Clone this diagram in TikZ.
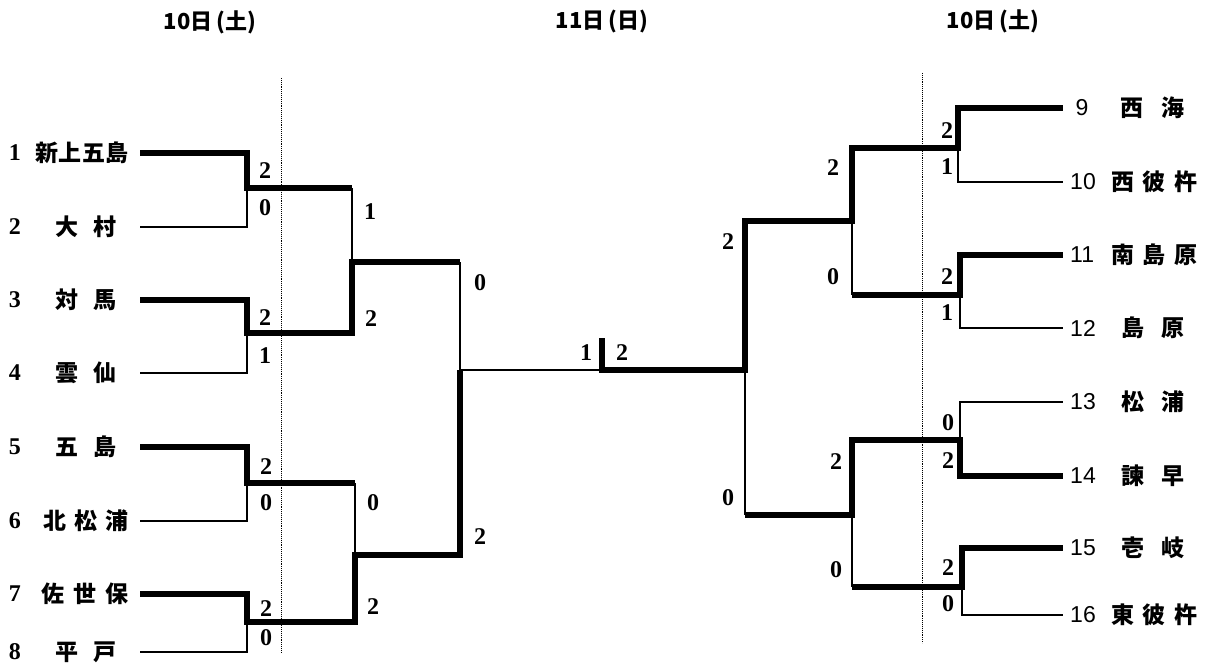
\documentclass[tikz,border=0pt]{standalone}
\usepackage{fontspec}
\setmainfont{Liberation Serif}
\setsansfont{Liberation Sans}
\newfontfamily\cjk{Noto Sans CJK JP}
\begin{document}
\begin{tikzpicture}[x=1pt,y=-1pt,
  win/.style={line width=5.5pt, line join=miter},
  lose/.style={line width=1.8pt},
  sep/.style={line width=0.9pt, densely dotted},
  score/.style={font=\fontsize{24}{26}\selectfont\bfseries, inner sep=0pt},
  num/.style={font=\fontsize{24}{26}\selectfont\bfseries, inner sep=0pt},
  rnum/.style={font=\sffamily\fontsize{23}{25}\selectfont, inner sep=0pt},
  tname/.style={font=\cjk\bfseries\fontsize{23}{25}\selectfont, inner sep=0pt},
  hdr/.style={font=\cjk\bfseries\fontsize{22}{24}\selectfont, inner sep=0pt}]
\useasboundingbox (0,0) rectangle (1206,671);

% headers
\node[hdr] (h1) at (210,22) {10日\,(土)};
\node[hdr] (h2) at (602,22) {11日\,(日)};
\node[hdr] (h3) at (993,21) {10日\,(土)};

% separator lines
\coordinate (s1t) at (281,78);  \coordinate (s1b) at (281,652);
\coordinate (s2t) at (922,73);  \coordinate (s2b) at (922,643);
\draw[sep] (s1t) -- (s1b);
\draw[sep] (s2t) -- (s2b);

% left bracket coordinates
\coordinate (a1) at (140,153); \coordinate (a1c) at (247,153);
\coordinate (a2) at (140,227); \coordinate (a2c) at (247,227);
\coordinate (A) at (247,188);
\coordinate (b3) at (140,300); \coordinate (b3c) at (247,300);
\coordinate (b4) at (140,373); \coordinate (b4c) at (247,373);
\coordinate (B) at (247,333);
\coordinate (AB1) at (352,188); \coordinate (AB2) at (352,333); \coordinate (AB) at (352,262);
\coordinate (c5) at (140,447); \coordinate (c5c) at (247,447);
\coordinate (c6) at (140,521); \coordinate (c6c) at (247,521);
\coordinate (C) at (247,483);
\coordinate (d7) at (140,594); \coordinate (d7c) at (247,594);
\coordinate (d8) at (140,652); \coordinate (d8c) at (247,652);
\coordinate (D) at (247,622);
\coordinate (CD1) at (355,483); \coordinate (CD2) at (355,622); \coordinate (CD) at (355,555);
\coordinate (L1) at (460,262); \coordinate (L2) at (460,555); \coordinate (L) at (460,370);
\coordinate (F) at (602,370); \coordinate (Ft) at (602,338); \coordinate (Fb) at (602,373);

% right bracket coordinates
\coordinate (R) at (745,370); \coordinate (R1) at (745,221); \coordinate (R2) at (745,515);
\coordinate (E1) at (852,221); \coordinate (E1t) at (852,148); \coordinate (E1b) at (852,295);
\coordinate (E2) at (852,515); \coordinate (E2t) at (852,440); \coordinate (E2b) at (852,587);
\coordinate (G9) at (958,148); \coordinate (g9c) at (958,108); \coordinate (g9) at (1063,108);
\coordinate (g10c) at (958,182); \coordinate (g10) at (1063,182);
\coordinate (G11) at (960,295); \coordinate (g11c) at (960,255); \coordinate (g11) at (1063,255);
\coordinate (g12c) at (960,328); \coordinate (g12) at (1063,328);
\coordinate (G13) at (960,440); \coordinate (g13c) at (960,402); \coordinate (g13) at (1063,402);
\coordinate (g14c) at (960,476); \coordinate (g14) at (1063,476);
\coordinate (G15) at (962,587); \coordinate (g15c) at (962,548); \coordinate (g15) at (1063,548);
\coordinate (g16c) at (962,615); \coordinate (g16) at (1063,615);

% left bracket lines
\draw[lose] (a2) -- (a2c) -- (A);
\draw[lose] (b4) -- (b4c) -- (B);
\draw[lose] (AB1) -- (AB);
\draw[lose] (c6) -- (c6c) -- (C);
\draw[lose] (d8) -- (d8c) -- (D);
\draw[lose] (CD1) -- (CD);
\draw[lose] (L1) -- (L) -- (F);
\draw[win] (a1) -- (a1c) -- (A) -- (AB1);
\draw[win] (b3) -- (b3c) -- (B) -- (AB2) -- (AB) -- (L1);
\draw[win] (c5) -- (c5c) -- (C) -- (CD1);
\draw[win] (d7) -- (d7c) -- (D) -- (CD2) -- (CD) -- (L2) -- (L);

% final
\draw[win] (F) -- (R) -- (R1) -- (E1) -- (E1t) -- (G9) -- (g9c) -- (g9);
\draw[win] (Ft) -- (Fb);

% right bracket lines
\draw[lose] (R) -- (R2);
\draw[lose] (E1) -- (E1b);
\draw[lose] (G9) -- (g10c) -- (g10);
\draw[lose] (G11) -- (g12c) -- (g12);
\draw[lose] (G13) -- (g13c) -- (g13);
\draw[lose] (E2) -- (E2b);
\draw[lose] (G15) -- (g16c) -- (g16);
\draw[win] (E1b) -- (G11) -- (g11c) -- (g11);
\draw[win] (R2) -- (E2) -- (E2t) -- (G13) -- (g14c) -- (g14);
\draw[win] (E2b) -- (G15) -- (g15c) -- (g15);

% left team labels
\node[num] (n1) at (15,153) {1}; \node[tname] (m1) at (82,153) {\makebox[94pt][s]{新\hfill 上\hfill 五\hfill 島}};
\node[num] (n2) at (15,227) {2}; \node[tname] (m2) at (86,227) {\makebox[62pt][s]{大\hfill 村}};
\node[num] (n3) at (15,300) {3}; \node[tname] (m3) at (86,300) {\makebox[62pt][s]{対\hfill 馬}};
\node[num] (n4) at (15,373) {4}; \node[tname] (m4) at (86,373) {\makebox[62pt][s]{雲\hfill 仙}};
\node[num] (n5) at (15,447) {5}; \node[tname] (m5) at (86,447) {\makebox[62pt][s]{五\hfill 島}};
\node[num] (n6) at (15,521) {6}; \node[tname] (m6) at (86,521) {\makebox[86pt][s]{北\hfill 松\hfill 浦}};
\node[num] (n7) at (15,594) {7}; \node[tname] (m7) at (85,594) {\makebox[88pt][s]{佐\hfill 世\hfill 保}};
\node[num] (n8) at (15,652) {8}; \node[tname] (m8) at (86,652) {\makebox[62pt][s]{平\hfill 戸}};

% right team labels
\node[rnum] (n9) at (1082,108) {9};  \node[tname] (m9) at (1152,108) {\makebox[64pt][s]{西\hfill 海}};
\node[rnum,anchor=west] (n10) at (1070,182) {10}; \node[tname] (m10) at (1154,182) {\makebox[86pt][s]{西\hfill 彼\hfill 杵}};
\node[rnum,anchor=west] (n11) at (1070,255) {11}; \node[tname] (m11) at (1154,255) {\makebox[86pt][s]{南\hfill 島\hfill 原}};
\node[rnum,anchor=west] (n12) at (1070,328) {12}; \node[tname] (m12) at (1153,328) {\makebox[63pt][s]{島\hfill 原}};
\node[rnum,anchor=west] (n13) at (1070,402) {13}; \node[tname] (m13) at (1153,402) {\makebox[63pt][s]{松\hfill 浦}};
\node[rnum,anchor=west] (n14) at (1070,476) {14}; \node[tname] (m14) at (1153,476) {\makebox[63pt][s]{諫\hfill 早}};
\node[rnum,anchor=west] (n15) at (1070,548) {15}; \node[tname] (m15) at (1153,548) {\makebox[63pt][s]{壱\hfill 岐}};
\node[rnum,anchor=west] (n16) at (1070,615) {16}; \node[tname] (m16) at (1154,615) {\makebox[86pt][s]{東\hfill 彼\hfill 杵}};

% scores left
\node[score] (sa1) at (265,171) {2}; \node[score] (sa2) at (265,208) {0};
\node[score] (sb1) at (265,318) {2}; \node[score] (sb2) at (265,356) {1};
\node[score] (sc1) at (266,467) {2}; \node[score] (sc2) at (266,503) {0};
\node[score] (sd1) at (266,609) {2}; \node[score] (sd2) at (266,638) {0};
\node[score] (sab1) at (370,212) {1}; \node[score] (sab2) at (371,319) {2};
\node[score] (scd1) at (373,503) {0}; \node[score] (scd2) at (373,607) {2};
\node[score] (sl1) at (480,283) {0}; \node[score] (sl2) at (480,537) {2};
\node[score] (sf1) at (586,353) {1}; \node[score] (sf2) at (622,353) {2};
% scores right
\node[score] (sr1) at (728,242) {2}; \node[score] (sr2) at (728,498) {0};
\node[score] (se1) at (833,168) {2}; \node[score] (se2) at (833,277) {0};
\node[score] (se3) at (836,462) {2}; \node[score] (se4) at (836,570) {0};
\node[score] (sg9) at (947,131) {2}; \node[score] (sg10) at (947,167) {1};
\node[score] (sg11) at (947,277) {2}; \node[score] (sg12) at (947,313) {1};
\node[score] (sg13) at (948,423) {0}; \node[score] (sg14) at (948,461) {2};
\node[score] (sg15) at (948,568) {2}; \node[score] (sg16) at (948,604) {0};
\end{tikzpicture}
\end{document}
